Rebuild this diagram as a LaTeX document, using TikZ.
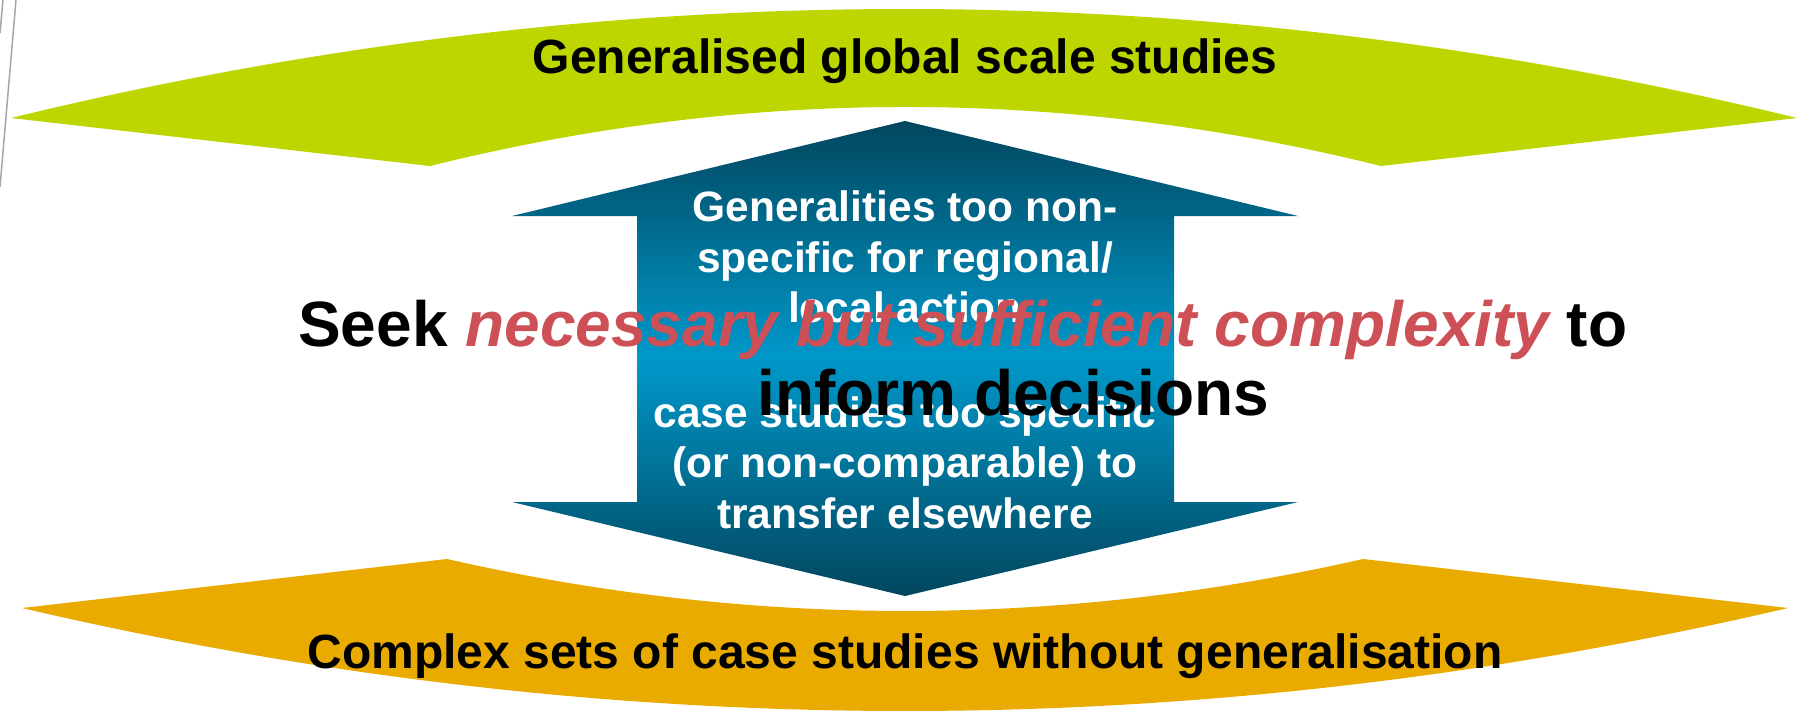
\documentclass[tikz,border=0pt]{standalone}
\usepackage{fontspec}
\setmainfont{Liberation Sans}
\definecolor{limegreen}{RGB}{190,214,0}
\definecolor{amber}{RGB}{234,171,0}
\definecolor{arrdark}{RGB}{2,70,94}
\definecolor{arrlight}{RGB}{0,152,202}
\definecolor{redtxt}{RGB}{205,80,87}
\definecolor{edgegrey}{RGB}{165,165,170}
\tikzset{
  hd/.style={inner sep=0pt, font=\fontsize{48}{55}\selectfont\bfseries, text=black},
  wt/.style={inner sep=0pt, font=\fontsize{42.5}{50}\selectfont\bfseries, text=white},
  mt/.style={inner sep=0pt, font=\fontsize{64}{70}\selectfont\bfseries, text=black},
  edgeline/.style={draw=edgegrey, line width=1.5pt}
}
\begin{document}
\begin{tikzpicture}[x=1pt,y=-1pt]
\useasboundingbox (0,0) rectangle (1798,712);
\fill[white] (0,0) rectangle (1798,712);
% thin lines at left edge
\draw[edgeline] (16,0) -- (0,187);
\draw[edgeline] (3,0) -- (0,33);
% green band
\fill[limegreen] (11,118) .. controls (606.3,-27.3) and (1201.7,-27.3) .. (1797,118)
  -- (1381,166) .. controls (1064,87.3) and (747,87.3) .. (430,166) -- cycle;
% orange band
\fill[amber] (22,608) -- (447,559) .. controls (752.3,628.3) and (1057.7,628.3) .. (1363,559)
  -- (1788,608) .. controls (1199.3,745.3) and (610.7,745.3) .. (22,608) -- cycle;
% double arrow
\shade[top color=arrdark, bottom color=arrdark, middle color=arrlight]
  (905,121) -- (1298,216) -- (1174,216) -- (1174,502) -- (1298,502) -- (905,596)
  -- (512,502) -- (637,502) -- (637,216) -- (512,216) -- cycle;
% band titles
\node[hd, anchor=base] (gtitle) at (905,73) {Generalised global scale studies};
\node[hd, anchor=base] (otitle) at (905,668) {Complex sets of case studies without generalisation};
% arrow texts
\node[wt, anchor=base] (t1) at (905,221) {Generalities too non-};
\node[wt, anchor=base] (t2) at (905,272) {specific for regional/};
\node[wt, anchor=base] (t3) at (905,322) {local action};
\node[wt, anchor=base] (b1) at (905,427) {case studies too specific};
\node[wt, anchor=base] (b2) at (905,477) {(or non-comparable) to};
\node[wt, anchor=base] (b3) at (905,528) {transfer elsewhere};
% main statement
\node[mt, anchor=base west] (m1) at (298,346) {Seek \textcolor{redtxt}{\itshape necessary but sufficient complexity} to};
\node[mt, anchor=base west] (m2) at (757,415) {inform decisions};
\end{tikzpicture}
\end{document}
